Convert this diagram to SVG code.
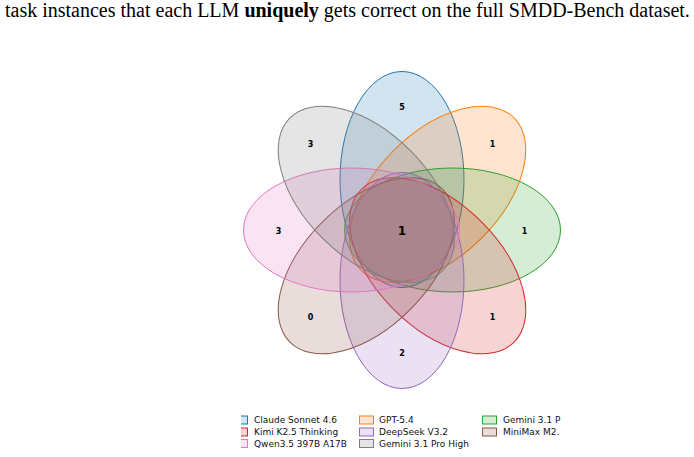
<svg xmlns="http://www.w3.org/2000/svg" width="694" height="457" viewBox="0 0 694 457">
<style>
.title{font-family:"Liberation Serif","Times New Roman",serif;font-size:20px;fill:#000}
.lab{font-family:"DejaVu Sans",sans-serif;font-size:8px;font-weight:bold;fill:#000;text-anchor:middle;dominant-baseline:central}
.big{font-size:12px}
.leg{font-family:"DejaVu Sans",sans-serif;font-size:9px;fill:#111;dominant-baseline:central}
.e{stroke-width:1}
</style>
<defs>
<clipPath id="legclip"><rect x="241" y="405" width="330" height="50"/></clipPath>
</defs>
<rect width="694" height="457" fill="#fff"/>
<text class="title" x="5" y="17">task instances that each LLM <tspan font-weight="bold">uniquely</tspan> gets correct on the full SMDD-Bench dataset.</text>
<g id="sets" transform="translate(402,230)">
<g id="claude" transform="rotate(0)"><ellipse class="e" cx="0" cy="-50.5" rx="62" ry="108" fill="#1f77b4" fill-opacity="0.2" stroke="#1f77b4"/></g>
<g id="gpt" transform="rotate(45)"><ellipse class="e" cx="0" cy="-50.5" rx="62" ry="108" fill="#ff7f0e" fill-opacity="0.2" stroke="#ff7f0e"/></g>
<g id="gemini" transform="rotate(90)"><ellipse class="e" cx="0" cy="-50.5" rx="62" ry="108" fill="#2ca02c" fill-opacity="0.2" stroke="#2ca02c"/></g>
<g id="kimi" transform="rotate(135)"><ellipse class="e" cx="0" cy="-50.5" rx="62" ry="108" fill="#d62728" fill-opacity="0.2" stroke="#d62728"/></g>
<g id="deepseek" transform="rotate(180)"><ellipse class="e" cx="0" cy="-50.5" rx="62" ry="108" fill="#9467bd" fill-opacity="0.2" stroke="#9467bd"/></g>
<g id="minimax" transform="rotate(225)"><ellipse class="e" cx="0" cy="-50.5" rx="62" ry="108" fill="#8c564b" fill-opacity="0.2" stroke="#8c564b"/></g>
<g id="qwen" transform="rotate(270)"><ellipse class="e" cx="0" cy="-50.5" rx="62" ry="108" fill="#e377c2" fill-opacity="0.2" stroke="#e377c2"/></g>
<g id="geminipro" transform="rotate(315)"><ellipse class="e" cx="0" cy="-50.5" rx="62" ry="108" fill="#7f7f7f" fill-opacity="0.2" stroke="#7f7f7f"/></g>
</g>
<g id="labels">
<text class="lab" x="402" y="107.5">5</text>
<text class="lab" x="492.5" y="144.5">1</text>
<text class="lab" x="524.5" y="231">1</text>
<text class="lab" x="492.5" y="317">1</text>
<text class="lab" x="402" y="353.5">2</text>
<text class="lab" x="310.5" y="317">0</text>
<text class="lab" x="278.5" y="231">3</text>
<text class="lab" x="310.5" y="144.5">3</text>
<text class="lab big" x="402" y="231">1</text>
</g>
<g id="legend" clip-path="url(#legclip)">
<rect x="233.5" y="416" width="14" height="8" fill="#1f77b4" fill-opacity="0.2" stroke="#1f77b4"/>
<text class="leg" x="254" y="420">Claude Sonnet 4.6</text>
<rect x="233.5" y="428" width="14" height="8" fill="#d62728" fill-opacity="0.2" stroke="#d62728"/>
<text class="leg" x="254" y="432">Kimi K2.5 Thinking</text>
<rect x="233.5" y="439.5" width="14" height="8" fill="#e377c2" fill-opacity="0.2" stroke="#e377c2"/>
<text class="leg" x="254" y="443.5">Qwen3.5 397B A17B</text>
<rect x="359.5" y="416" width="14" height="8" fill="#ff7f0e" fill-opacity="0.2" stroke="#ff7f0e"/>
<text class="leg" x="379" y="420">GPT-5.4</text>
<rect x="359.5" y="428" width="14" height="8" fill="#9467bd" fill-opacity="0.2" stroke="#9467bd"/>
<text class="leg" x="379" y="432">DeepSeek V3.2</text>
<rect x="359.5" y="439.5" width="14" height="8" fill="#7f7f7f" fill-opacity="0.2" stroke="#7f7f7f"/>
<text class="leg" x="379" y="443.5">Gemini 3.1 Pro High</text>
<rect x="482.5" y="416" width="14" height="8" fill="#2ca02c" fill-opacity="0.2" stroke="#2ca02c"/>
<text class="leg" x="503" y="420">Gemini 3.1 P</text>
<rect x="482.5" y="428" width="14" height="8" fill="#8c564b" fill-opacity="0.2" stroke="#8c564b"/>
<text class="leg" x="503" y="432">MiniMax M2.</text>
</g>
</svg>
